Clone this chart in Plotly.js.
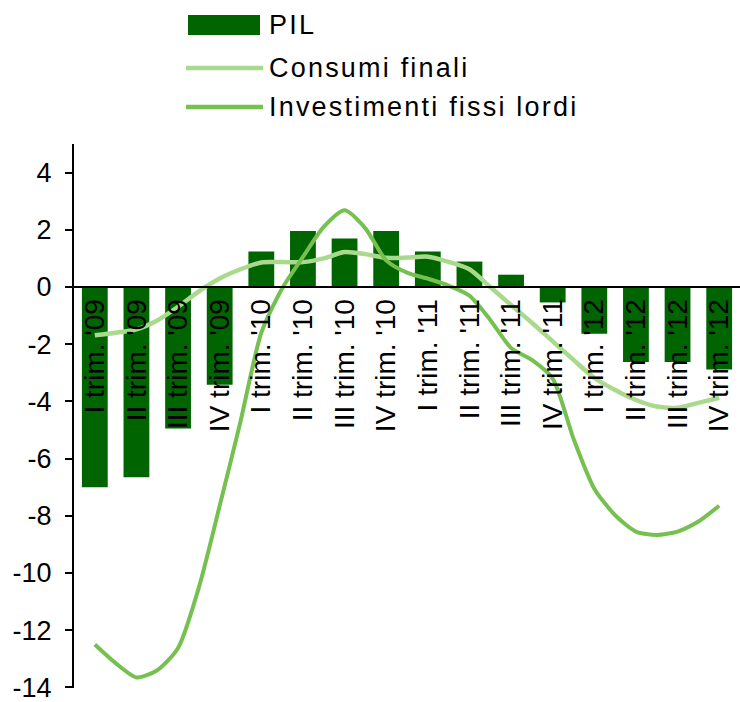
<!DOCTYPE html>
<html>
<head>
<meta charset="utf-8">
<script src="https://cdn.plot.ly/plotly-3.0.1.min.js"></script>
<style>
html,body{margin:0;padding:0;background:#fff;}
#chart{width:740px;height:702px;}
.annotation-text{letter-spacing:2.2px;}
</style>
</head>
<body>
<div id="chart"></div>
<script>
// Categories (quarters)
const quarters = ["I trim. '09","II trim. '09","III trim. '09","IV trim. '09",
                  "I trim. '10","II trim. '10","III trim. '10","IV trim. '10",
                  "I trim. '11","II trim. '11","III trim. '11","IV trim. '11",
                  "I trim. '12","II trim. '12","III trim. '12","IV trim. '12"];
const quarterIndex = [0,1,2,3,4,5,6,7,8,9,10,11,12,13,14,15];

// PIL (bars), one value per quarter
const pil = [-7.0,-6.65,-4.95,-3.42,1.24,1.96,1.70,1.96,1.24,0.89,0.43,-0.54,-1.63,-2.62,-2.62,-2.88];

// Line series read every half quarter (time in quarters from I trim. '09)
const lineTime = [0,0.5,1,1.5,2,2.5,3,3.5,4,4.5,5,5.5,6,6.5,7,7.5,8,8.5,9,9.5,10,10.5,11,11.5,12,12.5,13,13.5,14,14.5,15];
const consumi = [-1.69,-1.6,-1.48,-1.17,-0.69,-0.15,0.3,0.62,0.86,0.87,0.87,1.0,1.22,1.15,1.02,1.03,1.06,0.88,0.62,0.0,-0.63,-1.25,-1.9,-2.55,-3.18,-3.6,-3.95,-4.18,-4.22,-4.05,-3.87];
const investimenti = [-12.5,-13.15,-13.65,-13.4,-12.62,-10.5,-7.65,-4.7,-1.6,-0.05,1.05,2.1,2.68,2.05,0.93,0.5,0.29,0.05,-0.3,-1.15,-2.13,-2.55,-3.2,-5.3,-7.05,-7.98,-8.55,-8.67,-8.55,-8.2,-7.65];

// Y ticks
const yTickVals = [-14,-12,-10,-8,-6,-4,-2,0,2,4];
const yTickText = ["-14","-12","-10","-8","-6","-4","-2","0","2","4"];

const seriesNames = ["PIL","Consumi finali","Investimenti fissi lordi"];
const colPIL = "#006400", colCons = "rgb(168,217,141)", colInv = "rgb(118,192,80)";

const traces = [
  {type:"bar", x:quarterIndex, y:pil, name:seriesNames[0], marker:{color:colPIL}, hoverinfo:"skip"},
  {type:"scatter", mode:"lines", x:lineTime, y:consumi, name:seriesNames[1],
   line:{color:colCons, width:4.5, shape:"spline", smoothing:0.7}, hoverinfo:"skip"},
  {type:"scatter", mode:"lines", x:lineTime, y:investimenti, name:seriesNames[2],
   line:{color:colInv, width:4, shape:"spline", smoothing:0.7}, hoverinfo:"skip"}
];

// layout geometry helpers for the custom legend
const W = 740, H = 702, ML = 74, MR = 0, MT = 144, MB = 14;
const PW = W - ML - MR, PH = H - MT - MB;
const px2x = p => (p - ML) / PW;
const py2y = p => (H - MB - p) / PH;

const font = "Liberation Sans, Arial, sans-serif";
const legendRows = [25, 68, 107];

const shapes = [
  {type:"rect", xref:"paper", yref:"paper", x0:px2x(188), x1:px2x(260), y0:py2y(35), y1:py2y(15),
   fillcolor:colPIL, line:{width:0}},
  {type:"line", xref:"paper", yref:"paper", x0:px2x(186), x1:px2x(263), y0:py2y(legendRows[1]), y1:py2y(legendRows[1]),
   line:{color:colCons, width:4.5}},
  {type:"line", xref:"paper", yref:"paper", x0:px2x(186), x1:px2x(263), y0:py2y(legendRows[2]), y1:py2y(legendRows[2]),
   line:{color:colInv, width:4.5}}
];
const annotations = seriesNames.map((n,i) => ({
  xref:"paper", yref:"paper", x:px2x(267), y:py2y(legendRows[i]), xanchor:"left", yanchor:"middle",
  text:n, showarrow:false, font:{family:font, size:27, color:"#000"}
}));

const layout = {
  width:W, height:H,
  margin:{l:ML, r:MR, t:MT, b:MB, pad:0},
  paper_bgcolor:"#fff", plot_bgcolor:"#fff",
  showlegend:false,
  bargap:0.38,
  font:{family:font, color:"#000"},
  xaxis:{
    range:[-0.5,15.5], tickmode:"array", tickvals:quarterIndex, ticktext:quarters,
    tickangle:-90, tickfont:{family:font, size:28, color:"#000"},
    anchor:"free", position:14.02/19.02, showline:true, linecolor:"#000", linewidth:2,
    ticks:"", showgrid:false, zeroline:false, fixedrange:true
  },
  yaxis:{
    range:[-14.02,5], tickmode:"array", tickvals:yTickVals, ticktext:yTickText,
    tickfont:{family:font, size:27, color:"#000"},
    ticks:"outside", ticklen:7, tickwidth:2, tickcolor:"#000",
    showline:true, linecolor:"#000", linewidth:2, showgrid:false, zeroline:false,
    ticklabelstandoff:8, ticklabeloverflow:"allow", fixedrange:true
  },
  shapes:shapes,
  annotations:annotations
};

Plotly.newPlot("chart", traces, layout, {displayModeBar:false, staticPlot:true});
</script>
</body>
</html>
